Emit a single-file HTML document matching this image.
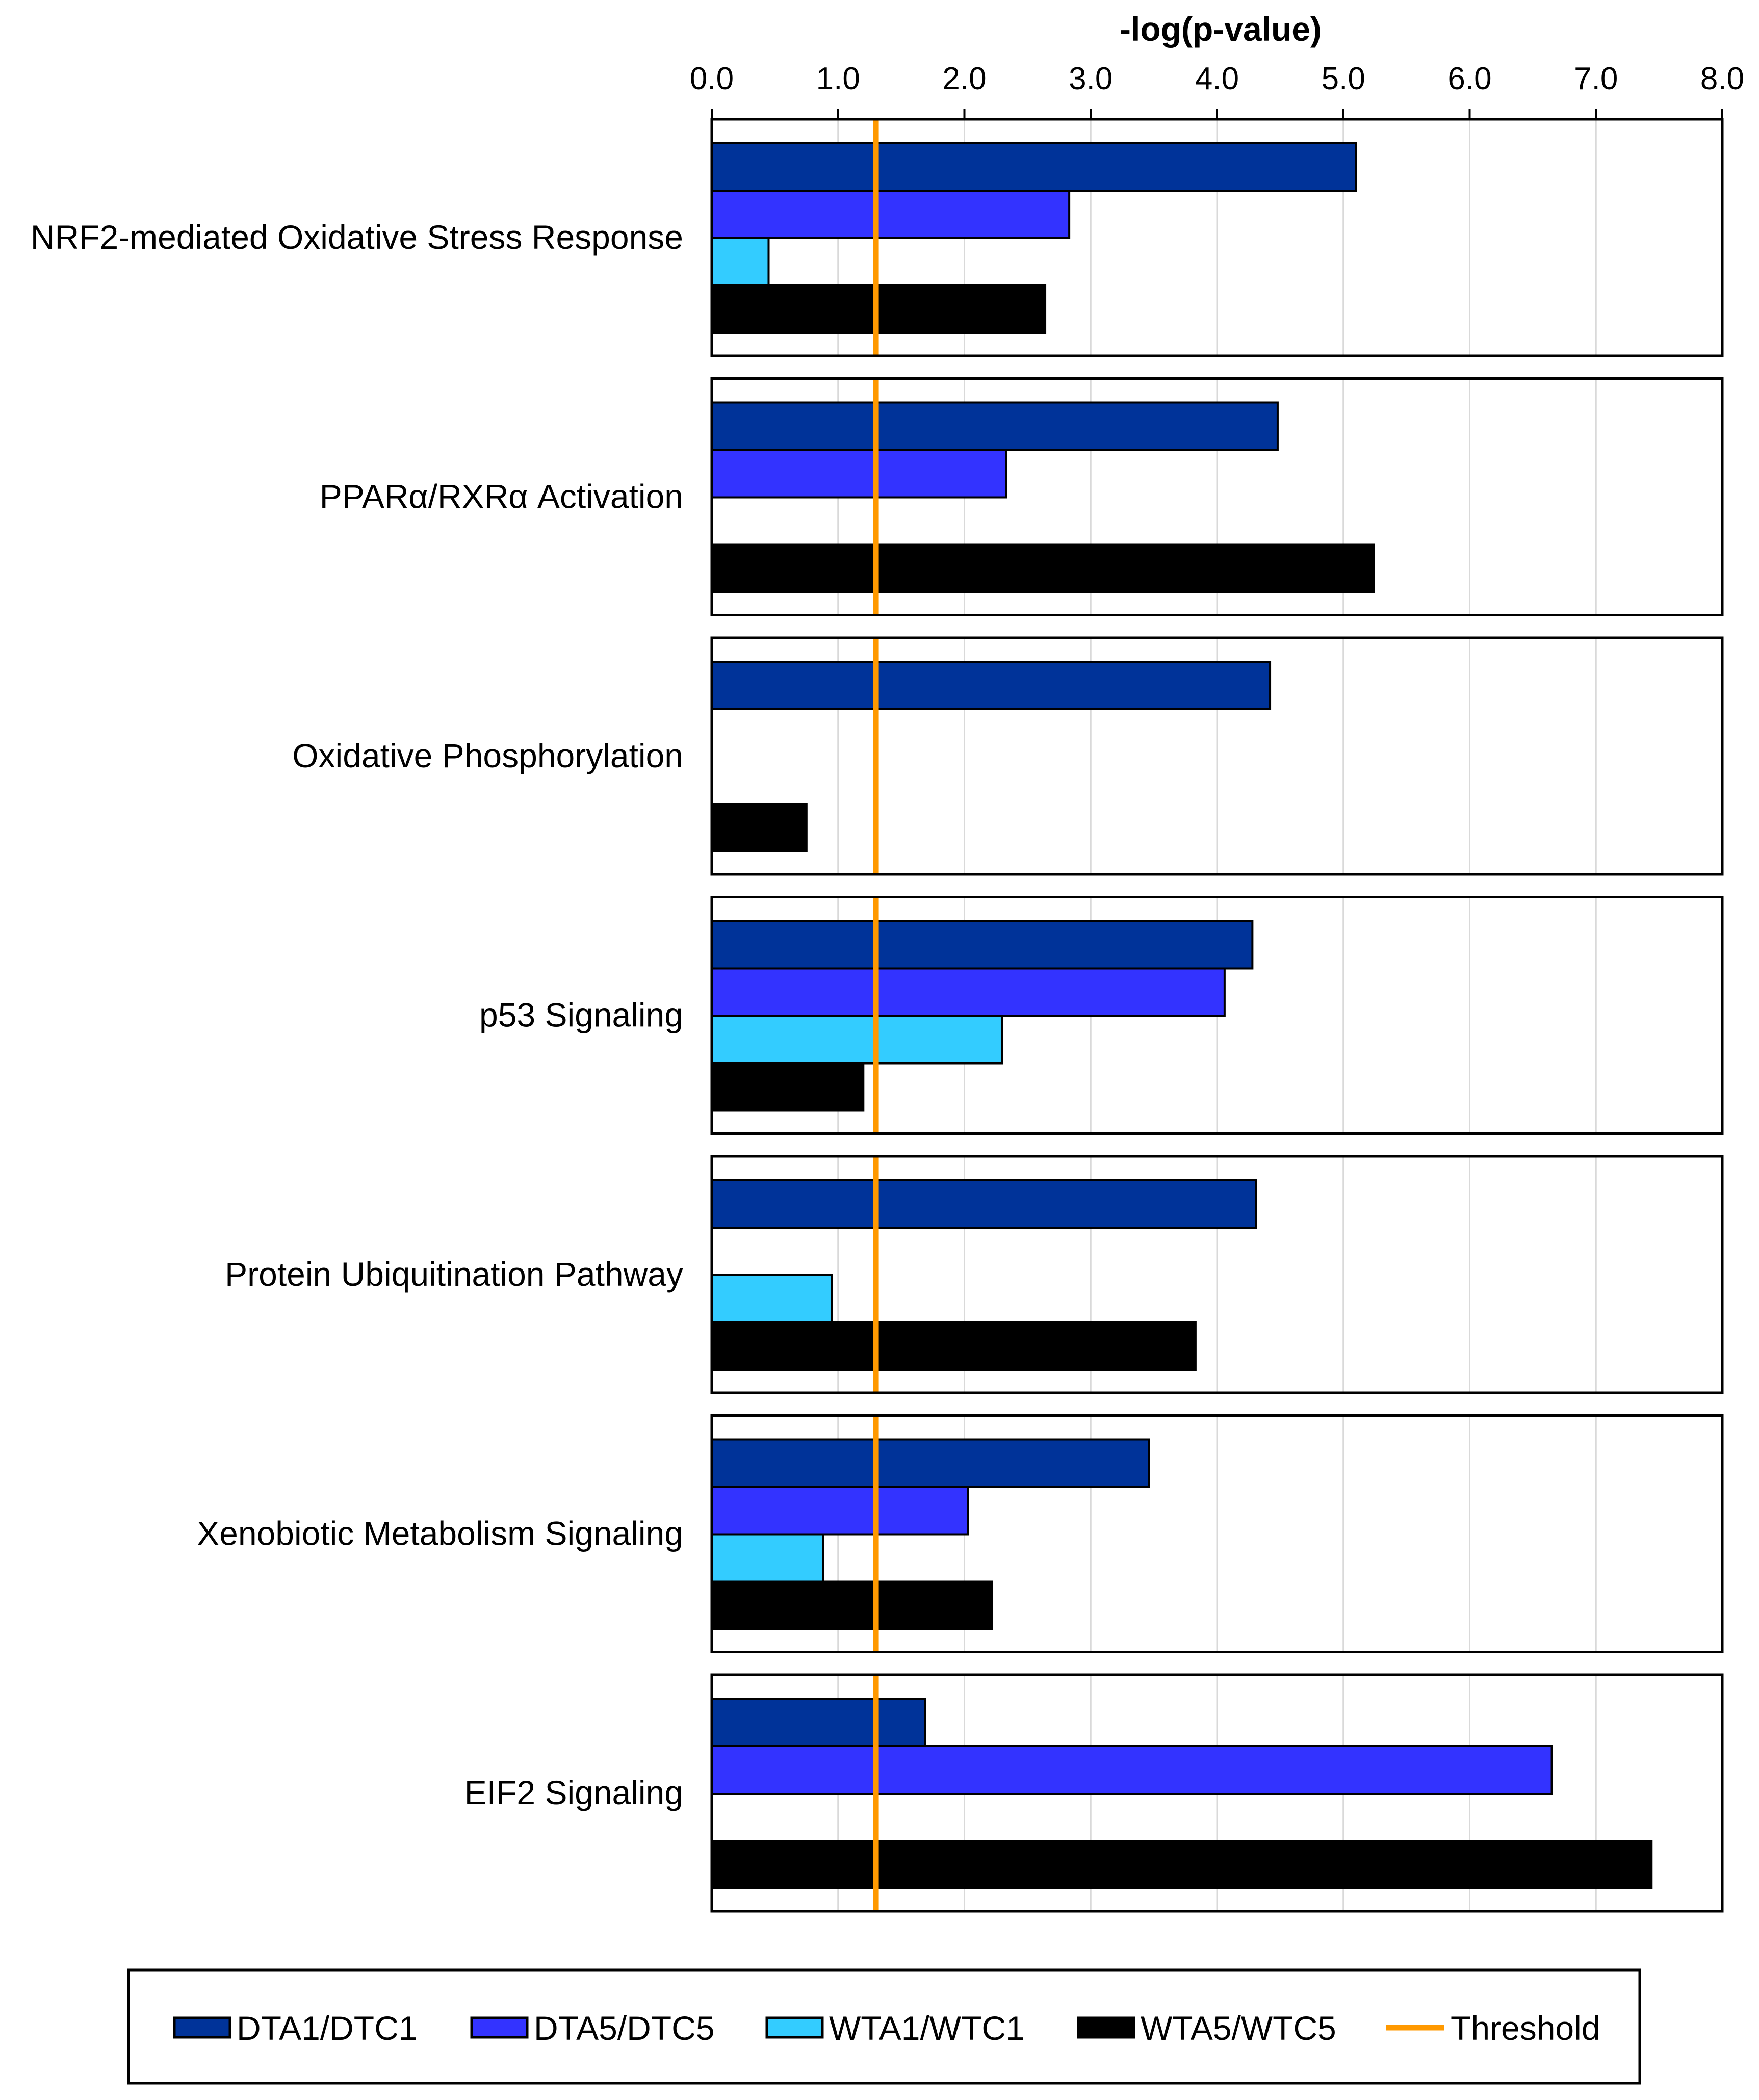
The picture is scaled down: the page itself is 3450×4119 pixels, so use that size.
<!DOCTYPE html>
<html><head><meta charset="utf-8"><style>
html,body{margin:0;padding:0;background:#fff;}
svg{display:block;font-family:"Liberation Sans",Arial,sans-serif;}
</style></head><body>
<svg id="chart" width="3450" height="4119" viewBox="0 0 3450 4119" xmlns="http://www.w3.org/2000/svg">
<text x="2394" y="80" font-size="66" font-weight="bold" text-anchor="middle">-log(p-value)</text>
<g id="ticks"></g>
<g id="panels"></g>
<g id="legend">
<rect x="252" y="3864" width="2964" height="222" fill="#fff" stroke="#000" stroke-width="5"/>
</g>
</svg>
<script>
const categories = ["NRF2-mediated Oxidative Stress Response","PPARα/RXRα Activation","Oxidative Phosphorylation","p53 Signaling","Protein Ubiquitination Pathway","Xenobiotic Metabolism Signaling","EIF2 Signaling"];
const seriesNames = ["DTA1/DTC1","DTA5/DTC5","WTA1/WTC1","WTA5/WTC5"];
const dta1 = [5.10, 4.48, 4.42, 4.28, 4.31, 3.46, 1.69];
const dta5 = [2.83, 2.33, null, 4.06, null, 2.03, 6.65];
const wta1 = [0.45, null, null, 2.30, 0.95, 0.88, null];
const wta5 = [2.64, 5.24, 0.75, 1.20, 3.83, 2.22, 7.44];
const tickValues = [0,1,2,3,4,5,6,7,8];
const tickLabels = ["0.0","1.0","2.0","3.0","4.0","5.0","6.0","7.0","8.0"];
const threshold = 1.3;

const colors = ["#003399","#3333FF","#33CCFF","#000000"];
const NS = "http://www.w3.org/2000/svg";
const X0 = 1396, X1 = 3378, XMAX = 8;
const xScale = v => X0 + (v / XMAX) * (X1 - X0);
const P0 = 234, PSTEP = 508.5, PH = 464, BOFF = 47, BH = 93;
function mk(tag, attrs, parent) {
  const e = document.createElementNS(NS, tag);
  for (const k in attrs) e.setAttribute(k, attrs[k]);
  parent.appendChild(e);
  return e;
}
const ticksG = document.getElementById('ticks');
tickValues.forEach((v, i) => {
  const t = mk('text', {x: xScale(v), y: 175, 'font-size': 62, 'text-anchor': 'middle'}, ticksG);
  t.textContent = tickLabels[i];
  
  
  const l = mk('line', {x1: xScale(v), x2: xScale(v), y1: 214, y2: P0, stroke: '#000', 'stroke-width': 4}, ticksG);
  
  
});
const panelsG = document.getElementById('panels');
const series = [dta1, dta5, wta1, wta5];
categories.forEach((cat, ci) => {
  const top = P0 + ci * PSTEP;
  const g = mk('g', {}, panelsG);
  
  
  mk('rect', {x: X0, y: top, width: X1 - X0, height: PH, fill: '#fff'}, g);
  tickValues.slice(1, -1).forEach(v => {
    const gl = mk('line', {x1: xScale(v), x2: xScale(v), y1: top, y2: top + PH, stroke: '#d9d9d9', 'stroke-width': 3}, g);
    
    
  });
  series.forEach((arr, si) => {
    const v = arr[ci];
    if (v == null) return;
    const r = mk('rect', {x: X0, y: top + BOFF + si * BH, width: xScale(v) - X0, height: BH, fill: colors[si], stroke: '#000', 'stroke-width': 4}, g);
    
    
  });
  const th = mk('line', {x1: xScale(threshold), x2: xScale(threshold), y1: top, y2: top + PH, stroke: '#FF9900', 'stroke-width': 11}, g);
  
  
  const b = mk('rect', {x: X0, y: top, width: X1 - X0, height: PH, fill: 'none', stroke: '#000', 'stroke-width': 5}, g);
  
  
  const lab = mk('text', {x: 1340, y: top + PH / 2 + 22, 'font-size': 66, 'text-anchor': 'end'}, g);
  lab.textContent = cat;
  
  
});
const legendG = document.getElementById('legend');
const legX = [342, 925, 1504, 2115];
seriesNames.forEach((n, i) => {
  const s = mk('rect', {x: legX[i], y: 3958, width: 109, height: 38, fill: colors[i], stroke: '#000', 'stroke-width': 5}, legendG);
  
  
  const t = mk('text', {x: legX[i] + 122, y: 4001, 'font-size': 66}, legendG);
  t.textContent = n;
  
  
});
const tl = mk('line', {x1: 2718, x2: 2832, y1: 3977, y2: 3977, stroke: '#FF9900', 'stroke-width': 11}, legendG);


const tt = mk('text', {x: 2845, y: 4001, 'font-size': 66}, legendG);
tt.textContent = 'Threshold';


</script>
</body></html>
